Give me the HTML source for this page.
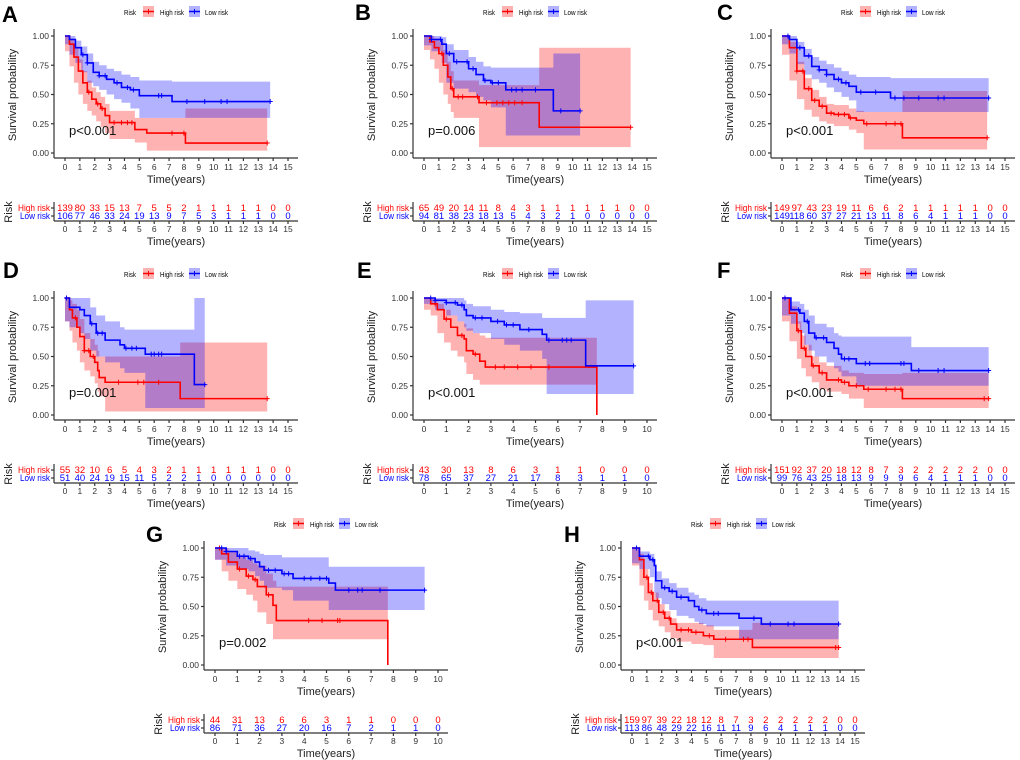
<!DOCTYPE html>
<html><head><meta charset="utf-8"><style>
html,body{margin:0;padding:0;background:#fff}
svg{display:block;font-family:"Liberation Sans",Arial,sans-serif}
</style></head><body>
<svg id="fig" width="1020" height="760" viewBox="0 0 1020 760" xmlns="http://www.w3.org/2000/svg"></svg>
<script>
// ---------- data ----------
const panelLetters = ["A","B","C","D","E","F","G","H"];
const panelMaxYears = [15,15,15,15,10,15,10,15];
const pValues = ["p<0.001","p=0.006","p<0.001","p=0.001","p<0.001","p<0.001","p=0.002","p<0.001"];

// Panel A
const aHighT=[0,0.3,0.6,0.9,1.2,1.5,1.8,2.1,2.4,2.7,3.0,4.7,5.5,8.1,13.6];
const aHighS=[1,0.93,0.82,0.7,0.6,0.52,0.46,0.42,0.38,0.32,0.26,0.2,0.17,0.085,0.085];
const aHighLo=[1,0.87,0.74,0.6,0.5,0.42,0.36,0.32,0.27,0.22,0.17,0.12,0.09,0.02,0.02];
const aHighUp=[1,0.98,0.9,0.8,0.7,0.62,0.56,0.52,0.48,0.42,0.36,0.3,0.3,0.38,0.38];
const aHighCens=[1.6,2.2,2.5,3.3,3.8,4.2,4.5,7.2,8.0,13.6];
const aLowT=[0,0.3,0.7,1.1,1.5,1.9,2.3,2.8,3.3,3.8,4.4,5.0,7.2,13.8];
const aLowS=[1,0.97,0.9,0.84,0.77,0.69,0.66,0.63,0.6,0.56,0.54,0.49,0.44,0.44];
const aLowLo=[1,0.93,0.84,0.77,0.69,0.6,0.57,0.54,0.5,0.46,0.43,0.38,0.3,0.3];
const aLowUp=[1,1,0.96,0.91,0.85,0.78,0.75,0.72,0.7,0.67,0.65,0.62,0.61,0.61];
const aLowCens=[1.2,1.5,2.3,2.7,3.5,4.2,4.6,6.3,6.5,8.2,9.4,10.5,10.9,13.8];
const aRiskHigh=[139,80,33,15,13,7,5,5,2,1,1,1,1,1,0,0];
const aRiskLow=[106,77,46,33,24,19,13,9,7,5,3,1,1,1,0,0];

// Panel B
const bHighT=[0,0.4,0.7,1.0,1.3,1.6,1.8,2.0,3.7,7.75,13.9];
const bHighS=[1,0.95,0.9,0.85,0.75,0.65,0.55,0.48,0.43,0.22,0.22];
const bHighLo=[1,0.88,0.8,0.72,0.6,0.5,0.42,0.35,0.3,0.05,0.05];
const bHighUp=[1,1,0.98,0.95,0.88,0.78,0.7,0.62,0.58,0.9,0.9];
const bHighCens=[1.2,1.9,2.3,2.6,3.6,4.2,4.9,5.3,5.7,6.1,6.6,13.9];
const bLowT=[0,0.5,1.2,1.5,2.0,3.0,3.5,4.0,4.5,5.5,8.7,10.5];
const bLowS=[1,0.97,0.93,0.85,0.78,0.72,0.67,0.62,0.6,0.54,0.36,0.36];
const bLowLo=[1,0.92,0.87,0.77,0.6,0.55,0.52,0.48,0.45,0.39,0.15,0.15];
const bLowUp=[1,1,0.99,0.93,0.88,0.82,0.78,0.74,0.73,0.73,0.85,0.85];
const bLowCens=[0.5,1.1,1.7,2.2,2.9,3.3,4.1,4.6,5.0,5.9,6.2,6.6,7.5,9.2,10.5];
const bRiskHigh=[65,49,20,14,11,8,4,3,1,1,1,1,1,1,0,0];
const bRiskLow=[94,81,38,23,18,13,5,4,3,2,1,0,0,0,0,0];

// Panel C
const cHighT=[0,0.5,1.0,1.5,2.0,2.5,3.0,3.5,4.5,5.0,5.5,8.1,13.8];
const cHighS=[1,0.9,0.7,0.55,0.45,0.4,0.34,0.33,0.3,0.28,0.25,0.13,0.13];
const cHighLo=[1,0.84,0.62,0.46,0.37,0.31,0.27,0.25,0.23,0.2,0.17,0.03,0.03];
const cHighUp=[1,0.95,0.78,0.64,0.54,0.48,0.42,0.41,0.38,0.36,0.35,0.53,0.53];
const cHighCens=[1.0,1.4,1.8,2.2,2.7,3.3,3.8,4.2,4.6,5.7,7.0,7.6,8.0,13.8];
const cLowT=[0,0.5,1.0,1.5,2.0,2.5,3.0,3.5,4.0,4.5,5.0,7.3,13.9];
const cLowS=[1,0.97,0.9,0.83,0.74,0.71,0.67,0.63,0.6,0.57,0.52,0.47,0.47];
const cLowLo=[1,0.93,0.85,0.76,0.67,0.63,0.6,0.56,0.52,0.48,0.45,0.35,0.35];
const cLowUp=[1,1,0.95,0.89,0.82,0.79,0.76,0.73,0.7,0.67,0.65,0.64,0.64];
const cLowCens=[0.4,1.2,1.8,2.5,3.0,3.8,4.3,5.3,6.3,7.6,8.2,9.2,10.5,10.9,13.9];
const cRiskHigh=[149,97,43,23,19,11,6,6,2,1,1,1,1,1,0,0];
const cRiskLow=[149,118,60,37,27,21,13,11,8,6,4,1,1,1,0,0];

// Panel D
const dHighT=[0,0.3,0.5,0.8,1.0,1.3,1.7,2.0,2.2,2.3,2.7,7.75,13.6];
const dHighS=[1,0.9,0.83,0.75,0.67,0.55,0.5,0.45,0.38,0.32,0.28,0.14,0.14];
const dHighLo=[1,0.8,0.72,0.62,0.55,0.45,0.38,0.33,0.27,0.2,0.16,0.03,0.03];
const dHighUp=[1,0.98,0.95,0.9,0.82,0.7,0.65,0.6,0.55,0.5,0.5,0.62,0.62];
const dHighCens=[0.7,1.3,1.6,1.9,3.6,4.9,5.3,6.3,13.6];
const dLowT=[0,0.3,1.0,1.3,1.7,2.1,2.7,3.7,4.0,5.4,8.7,9.4];
const dLowS=[1,0.92,0.9,0.85,0.78,0.7,0.64,0.6,0.57,0.52,0.26,0.26];
const dLowLo=[1,0.8,0.75,0.7,0.65,0.55,0.5,0.45,0.4,0.36,0.06,0.06];
const dLowUp=[1,1,1,1,0.92,0.85,0.8,0.75,0.73,0.73,1,1];
const dLowCens=[0.1,1.8,2.2,2.5,4.1,4.5,4.8,5.8,6.0,6.3,6.5,9.4];
const dRiskHigh=[55,32,10,6,5,4,3,2,1,1,1,1,1,1,0,0];
const dRiskLow=[51,40,24,19,15,11,5,2,2,1,0,0,0,0,0,0];

// Panel E
const eHighT=[0,0.3,0.6,0.9,1.2,1.5,1.8,1.9,2.2,2.5,2.75,7.75];
const eHighS=[1,0.95,0.9,0.82,0.75,0.68,0.65,0.55,0.52,0.46,0.41,0];
const eHighLo=[1,0.9,0.85,0.7,0.62,0.55,0.5,0.45,0.35,0.3,0.26,0.26];
const eHighUp=[1,0.99,0.95,0.9,0.85,0.8,0.78,0.74,0.7,0.68,0.66,0.66];
const eHighCens=[0.5,1.0,1.7,2.3,3.2,3.6,4.2,4.8,5.6];
const eLowT=[0,0.5,1.0,1.5,1.8,1.9,2.2,3.0,3.6,4.3,5.3,5.5,7.25,9.4];
const eLowS=[1,0.98,0.96,0.94,0.9,0.85,0.83,0.8,0.77,0.73,0.69,0.64,0.42,0.42];
const eLowLo=[1,0.95,0.9,0.85,0.8,0.75,0.72,0.7,0.65,0.6,0.55,0.48,0.18,0.18];
const eLowUp=[1,1,1,1,0.98,0.95,0.93,0.9,0.88,0.87,0.83,0.83,0.98,0.98];
const eLowCens=[0.3,0.5,1.0,1.4,1.7,2.3,2.6,3.3,3.7,4.0,4.7,5.6,6.2,6.4,6.6,9.4];
const eRiskHigh=[43,30,13,8,6,3,1,1,0,0,0];
const eRiskLow=[78,65,37,27,21,17,8,3,1,1,0];

// Panel F
const fHighT=[0,0.5,1.0,1.3,1.6,2.0,2.5,3.0,4.0,4.5,5.5,8.1,13.9];
const fHighS=[1,0.87,0.72,0.57,0.5,0.42,0.36,0.3,0.28,0.25,0.22,0.14,0.14];
const fHighLo=[1,0.8,0.63,0.48,0.4,0.33,0.28,0.22,0.2,0.18,0.14,0.06,0.06];
const fHighUp=[1,0.93,0.8,0.68,0.6,0.5,0.45,0.42,0.38,0.36,0.35,0.36,0.36];
const fHighCens=[1.1,1.5,2.1,2.7,3.8,4.2,5.0,5.8,7.0,7.6,8.0,13.6,13.9];
const fLowT=[0,0.6,1.2,1.5,1.8,2.2,3.0,3.5,3.8,4.0,5.0,8.7,13.9];
const fLowS=[1,0.9,0.87,0.8,0.7,0.66,0.62,0.57,0.52,0.48,0.44,0.38,0.38];
const fLowLo=[1,0.85,0.78,0.7,0.6,0.55,0.5,0.45,0.4,0.37,0.33,0.25,0.25];
const fLowUp=[1,0.97,0.95,0.9,0.85,0.78,0.75,0.7,0.68,0.67,0.67,0.58,0.58];
const fLowCens=[0.2,1.1,1.7,2.3,2.8,4.2,4.5,5.6,5.9,8.0,8.2,9.2,10.5,10.9,13.9];
const fRiskHigh=[151,92,37,20,18,12,8,7,3,2,2,2,2,2,0,0];
const fRiskLow=[99,76,43,25,18,13,9,9,9,6,4,1,1,1,0,0];

// Panel G
const gHighT=[0,0.3,0.6,1.0,1.4,1.7,1.9,2.3,2.6,2.75,7.75];
const gHighS=[1,0.95,0.88,0.82,0.76,0.73,0.67,0.6,0.51,0.38,0];
const gHighLo=[1,0.9,0.8,0.72,0.65,0.6,0.55,0.45,0.35,0.22,0.22];
const gHighUp=[1,1,0.97,0.93,0.9,0.87,0.85,0.78,0.72,0.67,0.67];
const gHighCens=[0.2,1.1,1.5,1.8,2.4,4.2,4.8,5.5,5.6];
const gLowT=[0,0.5,1.0,1.5,1.8,2.0,2.2,3.0,3.5,5.1,5.4,9.4];
const gLowS=[1,0.97,0.93,0.91,0.88,0.84,0.81,0.78,0.74,0.7,0.64,0.64];
const gLowLo=[1,0.9,0.85,0.82,0.8,0.76,0.72,0.66,0.64,0.55,0.47,0.47];
const gLowUp=[1,1,1,0.98,0.97,0.95,0.94,0.92,0.92,0.84,0.84,0.84];
const gLowCens=[0.3,0.5,1.1,1.3,1.6,2.4,2.7,3.1,3.3,4.0,4.3,4.7,5.0,6.0,6.4,6.6,7.4,9.4];
const gRiskHigh=[44,31,13,6,6,3,1,1,0,0,0];
const gRiskLow=[86,71,36,27,20,16,7,2,1,1,0];

// Panel H
const hHighT=[0,0.5,0.8,1.1,1.4,1.8,2.2,2.6,3.0,4.0,4.8,5.5,8.1,13.9];
const hHighS=[1,0.9,0.75,0.62,0.55,0.45,0.4,0.35,0.3,0.28,0.25,0.22,0.15,0.15];
const hHighLo=[1,0.85,0.68,0.55,0.47,0.38,0.33,0.28,0.23,0.2,0.18,0.17,0.06,0.06];
const hHighUp=[1,0.95,0.82,0.7,0.62,0.52,0.46,0.4,0.36,0.36,0.34,0.3,0.36,0.36];
const hHighCens=[1.0,1.3,1.7,2.1,2.5,3.3,3.8,4.3,5.2,6.3,7.5,7.8,13.7,13.9];
const hLowT=[0,0.5,1.2,1.5,1.6,2.0,2.5,3.0,3.8,4.2,4.5,5.0,7.2,8.7,13.9];
const hLowS=[1,0.93,0.9,0.85,0.72,0.66,0.63,0.58,0.55,0.5,0.47,0.44,0.4,0.35,0.35];
const hLowLo=[1,0.87,0.82,0.75,0.62,0.57,0.52,0.47,0.42,0.4,0.37,0.35,0.33,0.22,0.22];
const hLowUp=[1,0.97,0.95,0.9,0.8,0.74,0.7,0.66,0.62,0.6,0.57,0.55,0.55,0.55,0.55];
const hLowCens=[0.3,1.1,1.4,2.2,2.7,3.3,4.7,5.5,5.8,8.2,9.3,10.5,10.9,13.9];
const hRiskHigh=[159,97,39,22,18,12,8,7,3,2,2,2,2,2,0,0];
const hRiskLow=[113,86,48,29,22,16,11,11,9,6,4,1,1,1,0,0];

// ---------- layout ----------
const panelOffsets=[[0,0],[359,0],[717,0],[0,262],[359,262],[717,262],[150,512],[567,512]];
const letterPos=[[2,22],[355,20],[717,20],[3,278],[357,278],[717,278],[146,542],[564,542]];
const series=[
 [aHighT,aHighS,aHighLo,aHighUp,aHighCens,aLowT,aLowS,aLowLo,aLowUp,aLowCens,aRiskHigh,aRiskLow],
 [bHighT,bHighS,bHighLo,bHighUp,bHighCens,bLowT,bLowS,bLowLo,bLowUp,bLowCens,bRiskHigh,bRiskLow],
 [cHighT,cHighS,cHighLo,cHighUp,cHighCens,cLowT,cLowS,cLowLo,cLowUp,cLowCens,cRiskHigh,cRiskLow],
 [dHighT,dHighS,dHighLo,dHighUp,dHighCens,dLowT,dLowS,dLowLo,dLowUp,dLowCens,dRiskHigh,dRiskLow],
 [eHighT,eHighS,eHighLo,eHighUp,eHighCens,eLowT,eLowS,eLowLo,eLowUp,eLowCens,eRiskHigh,eRiskLow],
 [fHighT,fHighS,fHighLo,fHighUp,fHighCens,fLowT,fLowS,fLowLo,fLowUp,fLowCens,fRiskHigh,fRiskLow],
 [gHighT,gHighS,gHighLo,gHighUp,gHighCens,gLowT,gLowS,gLowLo,gLowUp,gLowCens,gRiskHigh,gRiskLow],
 [hHighT,hHighS,hHighLo,hHighUp,hHighCens,hLowT,hLowS,hLowLo,hLowUp,hLowCens,hRiskHigh,hRiskLow]
];
const NS="http://www.w3.org/2000/svg";
const svg=document.getElementById('fig');
function mk(tag,attrs,parent,text){const e=document.createElementNS(NS,tag);for(const k in attrs)e.setAttribute(k,attrs[k]);if(text!==undefined)e.textContent=text;(parent||svg).appendChild(e);return e;}

function stepPath(T,S,xs,ys){let d="M"+xs(T[0])+","+ys(S[0]);for(let i=1;i<T.length;i++){d+=" H"+xs(T[i])+" V"+ys(S[i]);}return d;}
function bandPath(T,L,U,xs,ys){let d="M"+xs(T[0])+","+ys(U[0]);for(let i=1;i<T.length;i++){d+=" H"+xs(T[i])+" V"+ys(U[i]);}
 for(let i=T.length-1;i>0;i--){d+=" V"+ys(L[i])+" H"+xs(T[i-1]);}d+=" V"+ys(L[0])+" Z";return d;}
function survAt(T,S,t){let v=S[0];for(let i=0;i<T.length;i++){if(T[i]<=t)v=S[i];}return v;}

panelLetters.forEach((L,p)=>{
 const [ox,oy]=panelOffsets[p];const maxY=panelMaxYears[p];
 const [hT,hS,hLo,hUp,hC,lT,lS,lLo,lUp,lC,rH,rL]=series[p];
 const g=mk('g',{});
 
 
 const xs=t=>(ox+65+t*223/maxY).toFixed(2);
 const ys=s=>(oy+153-s*117).toFixed(2);
 const lt=mk('text',{x:letterPos[p][0],y:letterPos[p][1],'font-size':22,'font-weight':'bold'},g,L);
 
 
 // legend
 const lg=mk('g',{},g);
 
 
 mk('text',{x:ox+124,y:oy+15,'font-size':7.5,textLength:12,lengthAdjust:'spacingAndGlyphs'},lg,'Risk');
 [[143,'#ff0000','rgba(255,0,0,0.3)','High risk',160,24],[189,'#0000ff','rgba(0,0,255,0.3)','Low risk',205,23]].forEach(k=>{
  const e=mk('g',{},lg);
  
  
  mk('rect',{x:ox+k[0],y:oy+6,width:11,height:11,fill:k[2]},e);
  mk('line',{x1:ox+k[0],x2:ox+k[0]+11,y1:oy+11.5,y2:oy+11.5,stroke:k[1],'stroke-width':1.5},e);
  mk('line',{x1:ox+k[0]+5.5,x2:ox+k[0]+5.5,y1:oy+9,y2:oy+14,stroke:k[1],'stroke-width':1},e);
  mk('text',{x:ox+k[4],y:oy+15,'font-size':7.5,textLength:k[5],lengthAdjust:'spacingAndGlyphs'},e,k[3]);
 });
 // bands
 const bh=mk('path',{d:bandPath(hT,hLo,hUp,xs,ys),fill:'rgba(255,0,0,0.3)'},g);
 
 
 const bl=mk('path',{d:bandPath(lT,lLo,lUp,xs,ys),fill:'rgba(0,0,255,0.3)'},g);
 
 
 [[hT,hS,hC,'#ff0000','high-risk'],[lT,lS,lC,'#0000ff','low-risk']].forEach(c=>{
  const ln=mk('path',{d:stepPath(c[0],c[1],xs,ys),fill:'none',stroke:c[3],'stroke-width':1.6},g);
  
  
  c[2].forEach(t=>{const x=+xs(t),y=+ys(survAt(c[0],c[1],t));
   const cm=mk('path',{d:`M${x-2.5},${y} H${x+2.5} M${x},${y-2.5} V${y+2.5}`,stroke:c[3],'stroke-width':1},g);
   
   
  });
 });
 // axes
 const ax=mk('g',{stroke:'#333','stroke-width':1.2},g);
 
 
 mk('line',{x1:ox+54,x2:ox+54,y1:oy+29,y2:oy+158},ax);
 mk('line',{x1:ox+54,x2:ox+298,y1:oy+158,y2:oy+158},ax);
 [0,0.25,0.5,0.75,1].forEach(v=>{mk('line',{x1:ox+51,x2:ox+54,y1:ys(v),y2:ys(v)},ax);
  const t=mk('text',{x:ox+49,y:+ys(v)+3,'font-size':8.5,'text-anchor':'end',fill:'#333',stroke:'none'},g,v.toFixed(2));
  
  });
 for(let i=0;i<=maxY;i++){const x=xs(i);mk('line',{x1:x,x2:x,y1:oy+158,y2:oy+161},ax);
  mk('text',{x:x,y:oy+170,'font-size':8.5,'text-anchor':'middle',fill:'#333'},g,String(i));
  mk('line',{x1:x,x2:x,y1:oy+221,y2:oy+224},ax);
  mk('text',{x:x,y:oy+232,'font-size':8.5,'text-anchor':'middle',fill:'#333'},g,String(i));
  const a=mk('text',{x:x,y:oy+211,'font-size':9.5,'text-anchor':'middle',fill:'#ff0000'},g,String(rH[i]));
  
  
  const b=mk('text',{x:x,y:oy+219,'font-size':9.5,'text-anchor':'middle',fill:'#0000ff'},g,String(rL[i]));
  
  
 }
 mk('line',{x1:ox+54,x2:ox+298,y1:oy+221,y2:oy+221},ax);
 mk('line',{x1:ox+54,x2:ox+54,y1:oy+202,y2:oy+221},ax);
 mk('line',{x1:ox+51,x2:ox+54,y1:oy+208,y2:oy+208},ax);
 mk('line',{x1:ox+51,x2:ox+54,y1:oy+216,y2:oy+216},ax);
 const xt=mk('text',{x:ox+176,y:oy+183,'font-size':11,'text-anchor':'middle',fill:'#222'},g,'Time(years)');
 
 
 mk('text',{x:ox+176,y:oy+245,'font-size':11,'text-anchor':'middle',fill:'#222'},g,'Time(years)');
 const yt=mk('text',{x:0,y:0,'font-size':11,'text-anchor':'middle',fill:'#222',transform:`translate(${ox+16},${oy+95}) rotate(-90)`},g,'Survival probability');
 
 
 mk('text',{x:0,y:0,'font-size':11,'text-anchor':'middle',fill:'#222',transform:`translate(${ox+12},${oy+212}) rotate(-90)`},g,'Risk');
 mk('text',{x:ox+18,y:oy+211,'font-size':9.5,fill:'#ff0000',textLength:32,lengthAdjust:'spacingAndGlyphs'},g,'High risk');
 mk('text',{x:ox+20,y:oy+219,'font-size':9.5,fill:'#0000ff',textLength:30,lengthAdjust:'spacingAndGlyphs'},g,'Low risk');
 const pv=mk('text',{x:ox+69,y:oy+135,'font-size':13,fill:'#111'},g,pValues[p]);
 
 
});
</script>
</body></html>
